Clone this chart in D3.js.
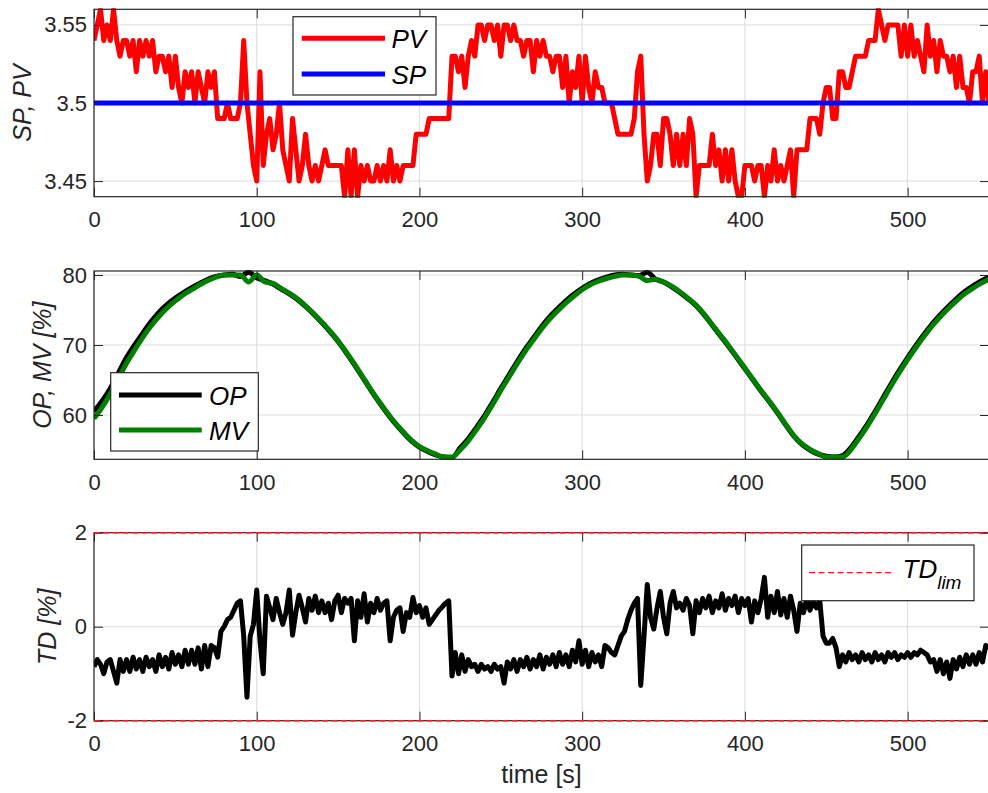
<!DOCTYPE html>
<html><head><meta charset="utf-8">
<script src="https://cdn.jsdelivr.net/npm/d3@7"></script>
<style>
html,body{margin:0;padding:0;background:#fff;}
svg{display:block;font-family:"Liberation Sans",Arial,Helvetica,sans-serif;}
</style></head>
<body><svg id="chart" width="988" height="793"></svg>
<script>
// ---------------- DATA ----------------
const xTicks = [0, 100, 200, 300, 400, 500];
const spTicks = [3.45, 3.5, 3.55];
const opTicks = [60, 70, 80];
const tdTicks = [-2, 0, 2];

// PV sampled every 2 s (t = 0..550)
const pvTime = d3.range(0, 551, 2);
const pv = [
3.54,3.55,3.56,3.54,3.55,3.54,3.56,3.54,3.53,3.54,
3.54,3.53,3.54,3.52,3.54,3.53,3.54,3.53,3.54,3.52,
3.53,3.53,3.52,3.53,3.51,3.53,3.51,3.50,3.52,3.51,
3.52,3.50,3.52,3.51,3.50,3.52,3.51,3.52,3.49,3.49,
3.49,3.50,3.49,3.49,3.49,3.50,3.54,3.50,3.48,3.46,
3.45,3.52,3.46,3.48,3.49,3.47,3.48,3.50,3.47,3.46,
3.45,3.49,3.47,3.45,3.46,3.48,3.46,3.45,3.46,3.45,
3.46,3.47,3.46,3.46,3.46,3.46,3.46,3.44,3.47,3.44,
3.47,3.44,3.46,3.45,3.46,3.45,3.45,3.46,3.45,3.46,
3.45,3.47,3.45,3.46,3.45,3.46,3.46,3.46,3.46,3.48,
3.48,3.48,3.48,3.49,3.49,3.49,3.49,3.49,3.49,3.49,
3.53,3.53,3.52,3.53,3.51,3.53,3.54,3.53,3.55,3.55,
3.54,3.55,3.55,3.54,3.55,3.53,3.55,3.55,3.54,3.55,
3.54,3.54,3.53,3.54,3.54,3.52,3.54,3.53,3.54,3.53,
3.53,3.52,3.53,3.53,3.51,3.53,3.50,3.52,3.51,3.53,
3.50,3.53,3.51,3.50,3.52,3.51,3.51,3.50,3.50,3.50,
3.49,3.48,3.48,3.48,3.48,3.48,3.49,3.52,3.53,3.48,
3.45,3.46,3.48,3.48,3.46,3.49,3.49,3.48,3.46,3.48,
3.46,3.48,3.46,3.49,3.48,3.44,3.46,3.46,3.46,3.46,
3.48,3.46,3.47,3.45,3.47,3.45,3.47,3.45,3.44,3.44,
3.46,3.46,3.46,3.45,3.46,3.46,3.44,3.46,3.45,3.47,
3.45,3.46,3.45,3.46,3.47,3.44,3.47,3.47,3.47,3.47,
3.49,3.49,3.49,3.48,3.50,3.51,3.51,3.49,3.49,3.52,
3.52,3.51,3.51,3.52,3.53,3.53,3.53,3.53,3.54,3.54,
3.54,3.56,3.55,3.54,3.55,3.55,3.55,3.55,3.53,3.55,
3.53,3.55,3.53,3.54,3.53,3.52,3.55,3.53,3.54,3.52,
3.54,3.53,3.53,3.52,3.53,3.51,3.53,3.51,3.51,3.50,
3.52,3.52,3.53,3.50,3.52,3.50
];
const spTime = [0, 550];
const sp = [3.5, 3.5];

// OP and MV sampled every 5 s
const opTime = d3.range(0, 551, 5);
const op = [
60.5,62.0,63.8,66.0,68.2,70.0,71.7,73.3,74.7,75.8,
76.7,77.5,78.2,78.8,79.4,79.8,80.0,80.1,79.8,80.4,
79.6,79.2,78.7,78.0,77.3,76.5,75.5,74.4,73.2,71.9,
70.5,68.9,67.2,65.4,63.6,61.9,60.3,58.8,57.5,56.3,
55.4,54.8,54.3,54.0,53.9,55.3,56.6,58.2,59.9,61.8,
63.8,65.7,67.6,69.4,71.0,72.6,74.0,75.2,76.3,77.3,
78.1,78.8,79.3,79.7,80.0,80.1,80.0,79.9,80.4,79.4,
79.0,78.3,77.5,76.6,75.6,74.3,72.8,71.3,69.8,68.2,
66.6,65.0,63.4,61.9,60.3,58.6,57.0,55.8,55.0,54.4,
54.1,54.0,54.2,55.3,56.9,58.6,60.5,62.5,64.5,66.4,
68.2,69.9,71.5,73.0,74.3,75.5,76.6,77.6,78.4,79.1,
79.7
];
const mv = [
59.5,61.1,63.0,65.2,67.4,69.3,71.1,72.7,74.1,75.3,
76.3,77.2,77.9,78.6,79.2,79.7,80.0,80.0,80.0,79.0,
80.0,79.0,78.8,78.1,77.4,76.6,75.6,74.5,73.3,72.0,
70.6,69.0,67.3,65.5,63.7,62.0,60.4,58.9,57.6,56.4,
55.5,54.9,54.4,54.0,54.0,55.0,56.3,57.9,59.6,61.5,
63.5,65.4,67.3,69.1,70.7,72.3,73.7,74.9,76.0,77.0,
77.9,78.6,79.1,79.5,79.8,80.0,80.0,79.8,79.2,79.4,
79.0,78.4,77.6,76.7,75.7,74.4,72.9,71.4,69.9,68.3,
66.7,65.1,63.5,62.0,60.4,58.7,57.1,55.9,55.1,54.5,
54.0,54.0,54.0,55.0,56.6,58.3,60.2,62.2,64.2,66.1,
67.9,69.6,71.2,72.7,74.0,75.2,76.3,77.3,78.1,78.8,
79.4
];

// TD sampled every 2 s
const tdTime = d3.range(0, 551, 2);
const td = [
-0.85,-0.7,-0.8,-1.0,-0.75,-0.7,-0.95,-1.2,-0.7,-0.95,
-0.7,-0.95,-0.65,-0.9,-0.7,-0.95,-0.65,-0.85,-0.7,-0.95,
-0.6,-0.85,-0.65,-0.9,-0.55,-0.8,-0.6,-0.85,-0.5,-0.8,
-0.5,-0.8,-0.45,-0.9,-0.4,-0.85,-0.4,-0.45,-0.65,-0.1,
0.0,0.15,0.2,0.35,0.5,0.55,-0.2,-1.5,-0.2,0.05,
0.78,-0.3,-1.0,0.65,0.4,0.15,0.6,0.3,0.05,0.3,
0.78,-0.18,0.3,0.67,0.4,0.1,0.6,0.35,0.65,0.3,
0.55,0.3,0.5,0.15,0.55,0.67,0.3,0.6,0.5,0.6,
-0.3,0.55,0.2,0.7,0.1,0.5,0.3,0.6,0.35,0.5,
0.55,-0.3,0.2,0.35,0.4,-0.1,0.3,0.2,0.62,0.3,
0.45,0.2,0.4,0.05,0.15,0.25,0.35,0.42,0.5,0.55,
-1.05,-0.55,-1.0,-0.6,-0.95,-0.7,-0.85,-0.8,-0.95,-0.8,
-0.9,-0.85,-0.95,-0.8,-0.9,-0.85,-1.2,-0.75,-0.9,-0.7,
-0.95,-0.7,-0.85,-0.65,-0.9,-0.7,-0.85,-0.6,-0.9,-0.65,
-0.8,-0.6,-0.85,-0.55,-0.8,-0.6,-0.85,-0.5,-0.75,-0.3,
-0.8,-0.5,-0.85,-0.55,-0.75,-0.6,-0.85,-0.4,-0.45,-0.55,
-0.6,-0.4,-0.2,-0.1,0.15,0.35,0.5,0.6,-1.25,-0.2,
0.9,0.2,-0.05,0.4,0.75,0.2,-0.15,0.5,0.75,0.4,
0.5,0.35,0.6,0.45,-0.15,0.55,0.3,0.6,0.4,0.65,
0.3,0.55,0.4,0.7,0.35,0.6,0.45,0.65,0.3,0.6,
0.45,0.6,0.1,0.55,0.3,0.6,1.05,0.2,0.65,0.3,
0.75,0.25,0.6,0.2,0.65,0.35,-0.1,0.5,0.3,0.6,
0.35,0.55,0.4,0.55,-0.2,-0.35,-0.35,-0.25,-0.45,-0.85,
-0.6,-0.75,-0.55,-0.7,-0.6,-0.75,-0.55,-0.7,-0.6,-0.75,
-0.55,-0.7,-0.6,-0.75,-0.55,-0.65,-0.55,-0.7,-0.6,-0.65,
-0.55,-0.65,-0.55,-0.6,-0.5,-0.55,-0.6,-0.75,-0.7,-0.95,
-0.7,-1.0,-0.75,-1.1,-0.7,-0.9,-0.65,-0.85,-0.6,-0.8,
-0.6,-0.8,-0.55,-0.75,-0.4,-0.45
];
const tdLimTime = [0, 550];
const tdUpper = [2, 2];
const tdLower = [-2, -2];

// ---------------- DRAW ----------------
const svg = d3.select("#chart");
const LEFT = 94, RIGHT = 989;
const TXT = "#262626";
const tickFont = 22, labelFont = 25, legFont = 26;

const x = d3.scaleLinear().domain([0, 550]).range([LEFT, RIGHT]);

const panels = [
  {top: 9.3, bottom: 196.7, domain: [3.44, 3.56], ticks: spTicks, label: "SP, PV", labelX: 31},
  {top: 271, bottom: 459.3, domain: [53.67, 80.57], ticks: opTicks, label: "OP, MV [%]", labelX: 51},
  {top: 532.7, bottom: 720.7, domain: [-2, 2], ticks: tdTicks, label: "TD [%]", labelX: 56}
];

panels.forEach((p, i) => {
  p.y = d3.scaleLinear().domain(p.domain).range([p.bottom, p.top]);
  const g = svg.append("g");
  g.append("rect").attr("x", LEFT).attr("y", p.top).attr("width", RIGHT - LEFT).attr("height", p.bottom - p.top).attr("fill", "#fff");
  g.selectAll(".gx").data(xTicks).enter().append("line")
    .attr("x1", d => x(d)).attr("x2", d => x(d)).attr("y1", p.top).attr("y2", p.bottom)
    .attr("stroke", "#dcdcdc").attr("stroke-width", 1);
  g.selectAll(".gy").data(p.ticks).enter().append("line")
    .attr("x1", LEFT).attr("x2", RIGHT).attr("y1", d => p.y(d)).attr("y2", d => p.y(d))
    .attr("stroke", "#dcdcdc").attr("stroke-width", 1);
  svg.append("clipPath").attr("id", "clip" + i).append("rect")
    .attr("x", LEFT).attr("y", p.top - 1).attr("width", RIGHT - LEFT).attr("height", p.bottom - p.top + 2);
  p.plot = svg.append("g").attr("clip-path", `url(#clip${i})`);
  p.free = svg.append("g");
});

function styleAxis(ax, showLabels) {
  ax.select(".domain").remove();
  ax.selectAll(".tick line").attr("stroke", TXT).attr("stroke-width", 1);
  ax.selectAll(".tick text").attr("fill", TXT).attr("font-size", tickFont)
    .attr("font-family", '"Liberation Sans",Arial,Helvetica,sans-serif');
  if (!showLabels) ax.selectAll(".tick text").remove();
}

function drawLine(p, xs, ys, color, width, curve, dash, noClip) {
  const data = xs.map((t, k) => [t, ys[k]]);
  const line = d3.line().x(d => x(d[0])).y(d => p.y(d[1])).curve(curve || d3.curveLinear);
  const path = (noClip ? svg : p.plot).append("path").datum(data).attr("d", line)
    .attr("fill", "none").attr("stroke", color).attr("stroke-width", width)
    .attr("stroke-linejoin", "round").attr("stroke-linecap", "butt");
  if (dash) path.attr("stroke-dasharray", dash);
  return path;
}

drawLine(panels[0], pvTime, pv, "#ff0000", 5);
drawLine(panels[0], spTime, sp, "#0000ff", 5);
drawLine(panels[1], opTime, op, "#000000", 5, d3.curveMonotoneX);
drawLine(panels[1], opTime, mv, "#008000", 5, d3.curveMonotoneX);
drawLine(panels[2], tdTime, td, "#000000", 5);

panels.forEach((p) => {
  const g = svg.append("g");
  g.append("rect").attr("x", LEFT).attr("y", p.top).attr("width", RIGHT - LEFT).attr("height", p.bottom - p.top)
    .attr("fill", "none").attr("stroke", TXT).attr("stroke-width", 1.2);
  const ab = g.append("g").attr("transform", `translate(0,${p.bottom})`)
    .call(d3.axisBottom(x).tickValues(xTicks).tickSize(-9).tickSizeOuter(0).tickPadding(15).tickFormat(d3.format("d")));
  styleAxis(ab, true);
  const at = g.append("g").attr("transform", `translate(0,${p.top})`)
    .call(d3.axisTop(x).tickValues(xTicks).tickSize(-9).tickSizeOuter(0));
  styleAxis(at, false);
  const al = g.append("g").attr("transform", `translate(${LEFT},0)`)
    .call(d3.axisLeft(p.y).tickValues(p.ticks).tickSize(-9).tickSizeOuter(0).tickPadding(7).tickFormat(d => String(d)));
  styleAxis(al, true);
  const ar = g.append("g").attr("transform", `translate(${RIGHT},0)`)
    .call(d3.axisRight(p.y).tickValues(p.ticks).tickSize(-9).tickSizeOuter(0));
  styleAxis(ar, false);
  svg.append("text").attr("transform", `translate(${p.labelX},${(p.top + p.bottom) / 2}) rotate(-90)`)
    .attr("text-anchor", "middle").attr("font-size", labelFont).attr("font-style", "italic")
    .attr("fill", TXT).text(p.label);
});

drawLine(panels[2], tdLimTime, tdUpper, "#ff1a1a", 1.6, null, "6,3.5", true);
drawLine(panels[2], tdLimTime, tdLower, "#ff1a1a", 1.6, null, "6,3.5", true);

svg.append("text").attr("x", (LEFT + RIGHT) / 2).attr("y", 783).attr("text-anchor", "middle")
  .attr("font-size", labelFont).attr("fill", TXT).text("time [s]");

// ---------------- LEGENDS ----------------
function legendBox(x0, y0, w, h) {
  svg.append("rect").attr("x", x0).attr("y", y0).attr("width", w).attr("height", h)
    .attr("fill", "#fff").attr("stroke", TXT).attr("stroke-width", 1.2);
}
function legendItem(x1, x2, yy, color, width, dash, label, tx, ty) {
  const l = svg.append("line").attr("x1", x1).attr("x2", x2).attr("y1", yy).attr("y2", yy)
    .attr("stroke", color).attr("stroke-width", width);
  if (dash) l.attr("stroke-dasharray", dash);
  return svg.append("text").attr("x", tx).attr("y", ty).attr("font-size", legFont)
    .attr("font-style", "italic").attr("fill", "#000").text(label);
}
legendBox(293, 16.7, 143, 78.3);
legendItem(301.7, 385, 38.3, "#ff0000", 5, null, "PV", 391.5, 48);
legendItem(301.7, 385, 74, "#0000ff", 5, null, "SP", 391.5, 83.5);

legendBox(110.7, 372.7, 147.6, 78.3);
legendItem(119, 201.7, 395, "#000000", 5, null, "OP", 209, 404.5);
legendItem(119, 201.7, 430, "#008000", 5, null, "MV", 209, 440);

legendBox(801.7, 545, 172.3, 55.7);
const tdt = legendItem(809, 893, 572.7, "#ff1a1a", 1.3, "6,3.5", "TD", 902.5, 578);
tdt.append("tspan").attr("baseline-shift", "sub").attr("font-size", 19).text("lim");
</script></body></html>
